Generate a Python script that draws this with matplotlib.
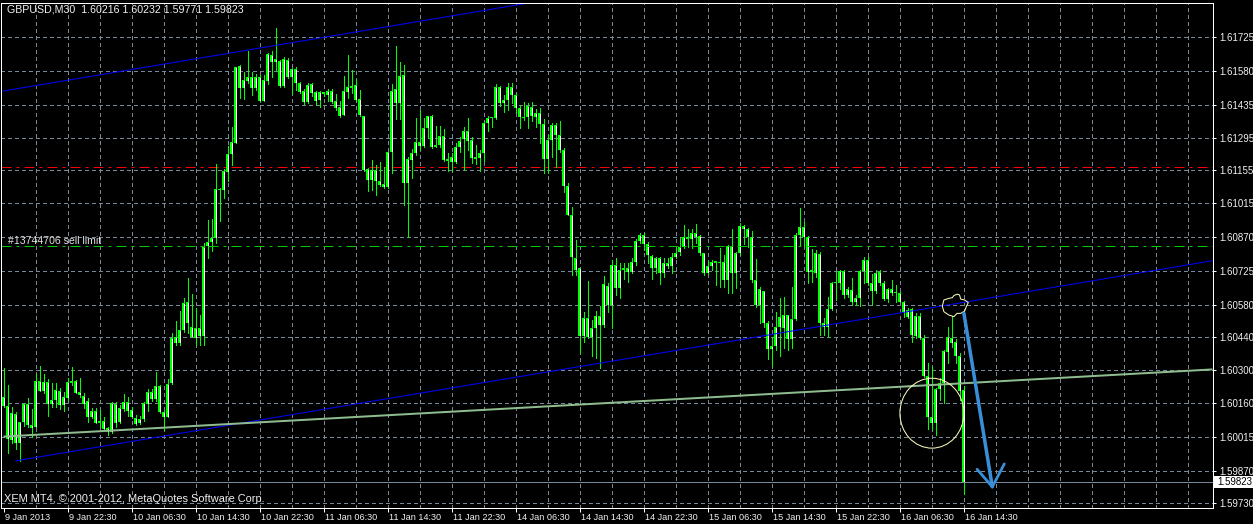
import numpy as np
import matplotlib
matplotlib.use("Agg")
import matplotlib.pyplot as plt
import matplotlib.transforms as mtransforms
from matplotlib.patches import Ellipse, Polygon, Rectangle

plt.rcParams['font.family'] = ['Liberation Sans', 'DejaVu Sans']

# ---------------------------------------------------------------- captions
symbol_caption = "GBPUSD,M30  1.60216 1.60232 1.59771 1.59823"
copyright_caption = "XEM MT4, \u00a9 2001-2012, MetaQuotes Software Corp."
order_caption = "#13744706 sell limit"

# ---------------------------------------------------------------- GBPUSD M30 bars
opens = [
    1.60185, 1.60147, 1.60001, 1.60113, 1.59988, 1.60078, 1.60155, 1.60066, 1.60057, 1.60254,
    1.60211, 1.60249, 1.60155, 1.60172, 1.60211, 1.60151, 1.60181, 1.60245, 1.60254, 1.60207,
    1.60190, 1.60168, 1.60100, 1.60125, 1.60074, 1.60083, 1.60053, 1.60036, 1.60155, 1.60078,
    1.60134, 1.60164, 1.60130, 1.60096, 1.60074, 1.60091, 1.60155, 1.60207, 1.60177, 1.60232,
    1.60121, 1.60100, 1.60245, 1.60442, 1.60416, 1.60472, 1.60592, 1.60485, 1.60438, 1.60480,
    1.60446, 1.60831, 1.60848, 1.60865, 1.61075, 1.61071, 1.61148, 1.61225, 1.61272, 1.61601,
    1.61507, 1.61537, 1.61554, 1.61507, 1.61554, 1.61451, 1.61537, 1.61648, 1.61618, 1.61622,
    1.61515, 1.61627, 1.61554, 1.61588, 1.61528, 1.61494, 1.61447, 1.61524, 1.61490, 1.61456,
    1.61490, 1.61477, 1.61494, 1.61451, 1.61426, 1.61391, 1.61490, 1.61515, 1.61520, 1.61460,
    1.61387, 1.61160, 1.61113, 1.61156, 1.61109, 1.61096, 1.61083, 1.61233, 1.61503, 1.61443,
    1.61562, 1.61101, 1.61199, 1.61229, 1.61276, 1.61259, 1.61336, 1.61387, 1.61254, 1.61263,
    1.61301, 1.61203, 1.61212, 1.61190, 1.61254, 1.61289, 1.61323, 1.61284, 1.61203, 1.61207,
    1.61229, 1.61357, 1.61379, 1.61379, 1.61511, 1.61443, 1.61456, 1.61511, 1.61477, 1.61421,
    1.61383, 1.61383, 1.61426, 1.61383, 1.61400, 1.61353, 1.61203, 1.61284, 1.61349, 1.61306,
    1.61242, 1.61088, 1.60964, 1.60780, 1.60737, 1.60446, 1.60523, 1.60442, 1.60480, 1.60532,
    1.60493, 1.60660, 1.60579, 1.60750, 1.60652, 1.60728, 1.60737, 1.60720, 1.60763, 1.60852,
    1.60878, 1.60840, 1.60788, 1.60737, 1.60780, 1.60716, 1.60758, 1.60746, 1.60784, 1.60805,
    1.60827, 1.60870, 1.60861, 1.60887, 1.60874, 1.60801, 1.60716, 1.60746, 1.60758, 1.60763,
    1.60763, 1.60686, 1.60831, 1.60716, 1.60801, 1.60917, 1.60904, 1.60870, 1.60686, 1.60579,
    1.60639, 1.60502, 1.60391, 1.60403, 1.60485, 1.60480, 1.60536, 1.60433, 1.60519, 1.60878,
    1.60912, 1.60870, 1.60720, 1.60716, 1.60797, 1.60502, 1.60485, 1.60562, 1.60673, 1.60673,
    1.60724, 1.60622, 1.60643, 1.60592, 1.60609, 1.60724, 1.60771, 1.60673, 1.60639, 1.60720,
    1.60673, 1.60604, 1.60647, 1.60630, 1.60630, 1.60592, 1.60527, 1.60562, 1.60446, 1.60532,
    1.60438, 1.60275, 1.60100, 1.60074, 1.60219, 1.60245, 1.60378, 1.60438, 1.60420, 1.60361,
    1.60216,
]
highs = [
    1.60309, 1.60237, 1.60142, 1.60121, 1.60078, 1.60160, 1.60181, 1.60134, 1.60284, 1.60318,
    1.60284, 1.60262, 1.60245, 1.60245, 1.60224, 1.60207, 1.60267, 1.60314, 1.60258, 1.60267,
    1.60202, 1.60181, 1.60138, 1.60138, 1.60130, 1.60100, 1.60057, 1.60164, 1.60164, 1.60151,
    1.60198, 1.60185, 1.60142, 1.60108, 1.60104, 1.60164, 1.60219, 1.60219, 1.60292, 1.60237,
    1.60130, 1.60262, 1.60459, 1.60510, 1.60553, 1.60609, 1.60694, 1.60626, 1.60566, 1.60536,
    1.60844, 1.60942, 1.60947, 1.61182, 1.61079, 1.61160, 1.61259, 1.61340, 1.61597, 1.61605,
    1.61575, 1.61665, 1.61575, 1.61567, 1.61562, 1.61562, 1.61657, 1.61665, 1.61763, 1.61627,
    1.61639, 1.61635, 1.61592, 1.61597, 1.61532, 1.61503, 1.61528, 1.61528, 1.61494, 1.61494,
    1.61490, 1.61503, 1.61503, 1.61481, 1.61451, 1.61558, 1.61648, 1.61584, 1.61545, 1.61498,
    1.61387, 1.61165, 1.61199, 1.61178, 1.61190, 1.61169, 1.61233, 1.61524, 1.61686, 1.61618,
    1.61605, 1.61212, 1.61246, 1.61379, 1.61413, 1.61379, 1.61387, 1.61391, 1.61344, 1.61344,
    1.61331, 1.61229, 1.61229, 1.61272, 1.61297, 1.61340, 1.61379, 1.61297, 1.61263, 1.61242,
    1.61366, 1.61387, 1.61383, 1.61524, 1.61515, 1.61477, 1.61528, 1.61528, 1.61485, 1.61434,
    1.61447, 1.61443, 1.61447, 1.61417, 1.61421, 1.61374, 1.61306, 1.61357, 1.61357, 1.61366,
    1.61250, 1.61101, 1.60998, 1.60857, 1.60737, 1.60549, 1.60681, 1.60515, 1.60553, 1.60574,
    1.60703, 1.60673, 1.60771, 1.60780, 1.60758, 1.60758, 1.60758, 1.60780, 1.60861, 1.60887,
    1.60887, 1.60848, 1.60793, 1.60784, 1.60784, 1.60780, 1.60780, 1.60801, 1.60822, 1.60870,
    1.60921, 1.60904, 1.60904, 1.60925, 1.60878, 1.60801, 1.60771, 1.60771, 1.60767, 1.60822,
    1.60793, 1.60835, 1.60904, 1.60805, 1.60930, 1.60921, 1.60908, 1.60895, 1.60775, 1.60656,
    1.60639, 1.60510, 1.60442, 1.60549, 1.60609, 1.60613, 1.60536, 1.60656, 1.60887, 1.60994,
    1.60934, 1.60874, 1.60818, 1.60814, 1.60805, 1.60523, 1.60613, 1.60677, 1.60720, 1.60728,
    1.60728, 1.60656, 1.60694, 1.60622, 1.60728, 1.60784, 1.60784, 1.60711, 1.60728, 1.60728,
    1.60681, 1.60652, 1.60686, 1.60664, 1.60634, 1.60596, 1.60566, 1.60566, 1.60544, 1.60544,
    1.60450, 1.60331, 1.60314, 1.60224, 1.60267, 1.60386, 1.60485, 1.60532, 1.60433, 1.60373,
    1.60232,
]
lows = [
    1.60142, 1.59946, 1.59988, 1.59963, 1.59912, 1.60061, 1.60057, 1.60014, 1.60057, 1.60211,
    1.60202, 1.60104, 1.60142, 1.60142, 1.60134, 1.60125, 1.60172, 1.60237, 1.60202, 1.60185,
    1.60138, 1.60078, 1.60096, 1.60074, 1.60057, 1.60044, 1.60023, 1.60031, 1.60057, 1.60074,
    1.60125, 1.60104, 1.60096, 1.60066, 1.60070, 1.60083, 1.60125, 1.60168, 1.60168, 1.60117,
    1.60044, 1.60100, 1.60241, 1.60408, 1.60408, 1.60463, 1.60459, 1.60442, 1.60408, 1.60408,
    1.60408, 1.60780, 1.60810, 1.60844, 1.60938, 1.61036, 1.61109, 1.61178, 1.61272, 1.61464,
    1.61460, 1.61528, 1.61477, 1.61498, 1.61451, 1.61451, 1.61524, 1.61554, 1.61584, 1.61511,
    1.61511, 1.61550, 1.61481, 1.61498, 1.61485, 1.61438, 1.61443, 1.61473, 1.61434, 1.61426,
    1.61473, 1.61451, 1.61443, 1.61413, 1.61383, 1.61391, 1.61464, 1.61485, 1.61451, 1.61387,
    1.61152, 1.61066, 1.61071, 1.61049, 1.61088, 1.61079, 1.61079, 1.61143, 1.61374, 1.61374,
    1.61006, 1.60870, 1.61122, 1.61220, 1.61242, 1.61254, 1.61293, 1.61250, 1.61254, 1.61254,
    1.61195, 1.61152, 1.61152, 1.61186, 1.61233, 1.61156, 1.61242, 1.61186, 1.61182, 1.61152,
    1.61195, 1.61323, 1.61340, 1.61374, 1.61430, 1.61404, 1.61413, 1.61443, 1.61400, 1.61336,
    1.61370, 1.61336, 1.61366, 1.61340, 1.61272, 1.61143, 1.61143, 1.61212, 1.61169, 1.61233,
    1.61062, 1.60964, 1.60707, 1.60707, 1.60373, 1.60420, 1.60438, 1.60361, 1.60352, 1.60309,
    1.60485, 1.60549, 1.60480, 1.60622, 1.60609, 1.60690, 1.60677, 1.60716, 1.60750, 1.60844,
    1.60814, 1.60758, 1.60690, 1.60716, 1.60669, 1.60698, 1.60737, 1.60716, 1.60780, 1.60793,
    1.60822, 1.60827, 1.60822, 1.60844, 1.60793, 1.60707, 1.60711, 1.60728, 1.60664, 1.60656,
    1.60656, 1.60630, 1.60630, 1.60652, 1.60793, 1.60840, 1.60827, 1.60677, 1.60570, 1.60502,
    1.60485, 1.60348, 1.60318, 1.60386, 1.60361, 1.60395, 1.60386, 1.60395, 1.60515, 1.60835,
    1.60827, 1.60673, 1.60677, 1.60698, 1.60450, 1.60450, 1.60442, 1.60557, 1.60600, 1.60647,
    1.60609, 1.60613, 1.60579, 1.60579, 1.60574, 1.60673, 1.60664, 1.60579, 1.60630, 1.60664,
    1.60600, 1.60592, 1.60622, 1.60592, 1.60592, 1.60527, 1.60523, 1.60420, 1.60438, 1.60433,
    1.60271, 1.60048, 1.60044, 1.60023, 1.60172, 1.60160, 1.60331, 1.60399, 1.60331, 1.60172,
    1.59771,
]
closes = [
    1.60147, 1.60006, 1.60117, 1.59988, 1.60078, 1.60155, 1.60066, 1.60053, 1.60254, 1.60211,
    1.60249, 1.60155, 1.60172, 1.60215, 1.60151, 1.60185, 1.60249, 1.60254, 1.60202, 1.60194,
    1.60155, 1.60100, 1.60125, 1.60074, 1.60083, 1.60048, 1.60036, 1.60160, 1.60074, 1.60138,
    1.60164, 1.60125, 1.60100, 1.60070, 1.60091, 1.60160, 1.60207, 1.60177, 1.60232, 1.60121,
    1.60100, 1.60241, 1.60438, 1.60416, 1.60472, 1.60587, 1.60502, 1.60442, 1.60480, 1.60446,
    1.60827, 1.60848, 1.60865, 1.61075, 1.61071, 1.61152, 1.61225, 1.61276, 1.61597, 1.61507,
    1.61541, 1.61554, 1.61507, 1.61554, 1.61451, 1.61541, 1.61652, 1.61618, 1.61631, 1.61515,
    1.61631, 1.61554, 1.61588, 1.61528, 1.61490, 1.61447, 1.61520, 1.61485, 1.61451, 1.61490,
    1.61481, 1.61494, 1.61447, 1.61421, 1.61387, 1.61494, 1.61511, 1.61507, 1.61456, 1.61391,
    1.61156, 1.61113, 1.61156, 1.61109, 1.61092, 1.61083, 1.61233, 1.61494, 1.61443, 1.61558,
    1.61101, 1.61203, 1.61229, 1.61276, 1.61259, 1.61336, 1.61387, 1.61254, 1.61263, 1.61301,
    1.61199, 1.61195, 1.61190, 1.61254, 1.61280, 1.61323, 1.61280, 1.61207, 1.61212, 1.61229,
    1.61357, 1.61379, 1.61379, 1.61511, 1.61443, 1.61456, 1.61511, 1.61477, 1.61421, 1.61383,
    1.61379, 1.61430, 1.61387, 1.61400, 1.61353, 1.61203, 1.61284, 1.61349, 1.61306, 1.61242,
    1.61088, 1.60964, 1.60784, 1.60728, 1.60446, 1.60523, 1.60442, 1.60480, 1.60532, 1.60493,
    1.60669, 1.60579, 1.60750, 1.60652, 1.60728, 1.60737, 1.60720, 1.60763, 1.60852, 1.60878,
    1.60840, 1.60793, 1.60737, 1.60780, 1.60716, 1.60758, 1.60746, 1.60784, 1.60801, 1.60827,
    1.60870, 1.60861, 1.60887, 1.60870, 1.60801, 1.60716, 1.60746, 1.60763, 1.60767, 1.60758,
    1.60686, 1.60831, 1.60716, 1.60801, 1.60917, 1.60904, 1.60870, 1.60686, 1.60579, 1.60647,
    1.60502, 1.60391, 1.60403, 1.60485, 1.60527, 1.60536, 1.60433, 1.60519, 1.60878, 1.60912,
    1.60870, 1.60720, 1.60728, 1.60801, 1.60502, 1.60485, 1.60562, 1.60673, 1.60677, 1.60724,
    1.60622, 1.60647, 1.60592, 1.60609, 1.60724, 1.60771, 1.60673, 1.60639, 1.60716, 1.60673,
    1.60604, 1.60647, 1.60630, 1.60630, 1.60592, 1.60544, 1.60557, 1.60450, 1.60532, 1.60438,
    1.60275, 1.60100, 1.60074, 1.60219, 1.60245, 1.60382, 1.60442, 1.60416, 1.60361, 1.60211,
    1.59823,
]

# time axis labels, one every 16 bars (8 hours)
time_labels = [
    "9 Jan 2013", "9 Jan 22:30", "10 Jan 06:30", "10 Jan 14:30", "10 Jan 22:30",
    "11 Jan 06:30", "11 Jan 14:30", "11 Jan 22:30", "14 Jan 06:30", "14 Jan 14:30",
    "14 Jan 22:30", "15 Jan 06:30", "15 Jan 14:30", "15 Jan 22:30", "16 Jan 06:30",
    "16 Jan 14:30",
]
price_ticks = [
    1.61725, 1.61580, 1.61435, 1.61295, 1.61155, 1.61015, 1.60870, 1.60725,
    1.60580, 1.60440, 1.60300, 1.60160, 1.60015, 1.59870, 1.59730,
]
price_tick_labels = [f"{p:.5f}" for p in price_ticks]

bid_price = 1.59823
sell_limit_price = 1.60830
stop_level_price = 1.61168

# chart objects: (bar index, price) anchors
upper_channel_bars = [0, 120]
upper_channel_prices = [1.61494, 1.61838]
lower_channel_bars = [3, 240]
lower_channel_prices = [1.59912, 1.60590]
support_bars = [0, 240]
support_prices = [1.60016, 1.60244]

ellipse_center_bar, ellipse_center_price = 232.1, 1.60116
ellipse_width_bars, ellipse_height_price = 16.0, 0.00299

cloud_bars = [234.7, 235.1, 236.3, 237.2, 237.6, 238.4, 239.0, 239.3, 240.3,
              241.2, 240.7, 240.3, 239.3, 238.4, 237.6, 236.3, 235.1]
cloud_prices = [1.60574, 1.60600, 1.60607, 1.60610, 1.60619, 1.60625, 1.60622,
                1.60604, 1.60600, 1.60589, 1.60572, 1.60553, 1.60543, 1.60543,
                1.60529, 1.60536, 1.60550]

arrow_bars = [240.1, 247.2]
arrow_prices = [1.60543, 1.59801]
arrow_head_bars = [243.4, 247.2, 250.2]
arrow_head_prices = [1.59876, 1.59801, 1.59899]

# ---------------------------------------------------------------- layout
W, H, DPI = 1253, 524, 100
LIME = "#00ff00"
GRID = "#778899"
TEXT = "#f0f0f0"
PX = 72.0 / DPI  # one pixel in points

fig = plt.figure(figsize=(W / DPI, H / DPI), dpi=DPI, facecolor="black")
left_px, right_px, top_px, bottom_px = 0.5, 1212.5, 2.5, 507.5
ax = fig.add_axes([left_px / W, 1 - bottom_px / H,
                   (right_px - left_px) / W, (bottom_px - top_px) / H])
ax.set_facecolor("black")
x_lo, x_hi = -0.75, 302.25
y_lo, y_hi = 1.597126, 1.618725
ax.set_xlim(x_lo, x_hi)
ax.set_ylim(y_lo, y_hi)
price_per_px = (y_hi - y_lo) / (bottom_px - top_px)

# grid
grid_kw = dict(color=GRID, lw=PX, ls=(0, (3, 3)), antialiased=False, zorder=1)
for p in price_ticks:
    ax.axhline(p, **grid_kw)
for b in range(8, int(x_hi) + 1, 8):
    ax.axvline(b, **grid_kw)

# candles
o = np.array(opens)
h = np.array(highs)
l = np.array(lows)
c = np.array(closes)
x = np.arange(len(c))
body_lo = np.minimum(o, c)
body_hi = np.maximum(o, c)
ax.vlines(x, l, h, colors=LIME, lw=PX, antialiased=False, zorder=3)
ax.bar(x, np.maximum(body_hi - body_lo, price_per_px), bottom=body_lo, width=0.75,
       color=LIME, linewidth=0, antialiased=False, zorder=4)
inner = (body_hi - body_lo) > 2.5 * price_per_px
ax.vlines(x[inner], body_lo[inner] + price_per_px, body_hi[inner] - price_per_px,
          colors="white", lw=PX, antialiased=False, zorder=5)


def extend(bars, prices, start=None):
    """Extend a two-point trend line to the right edge of the chart."""
    slope = (prices[1] - prices[0]) / (bars[1] - bars[0])
    b0 = bars[0] if start is None else start
    xs = [b0, x_hi]
    ys = [prices[0] + slope * (b0 - bars[0]), prices[0] + slope * (x_hi - bars[0])]
    return xs, ys


# channel and support lines
xs, ys = extend(upper_channel_bars, upper_channel_prices, start=x_lo)
ax.plot(xs, ys, color="#0000ff", lw=PX, zorder=6)
xs, ys = extend(lower_channel_bars, lower_channel_prices)
ax.plot(xs, ys, color="#0000ff", lw=PX, zorder=6)
xs, ys = extend(support_bars, support_prices)
ax.plot(xs, ys, color="#8fbc8f", lw=2 * PX, zorder=6, solid_capstyle="butt")

# pending order levels
ax.axhline(sell_limit_price, color="#00c800", lw=PX, ls=(0, (10, 5, 3, 5)), zorder=6)
ax.axhline(stop_level_price, color="#ff0000", lw=PX, ls=(0, (10, 5, 3, 5)), zorder=2)

# bid line
ax.axhline(bid_price, color=GRID, lw=PX, zorder=6)

# hand-drawn marks
ax.add_patch(Ellipse((ellipse_center_bar, ellipse_center_price), ellipse_width_bars,
                     ellipse_height_price, fill=False, ec="#ffffc0", lw=PX, zorder=7))
ax.add_patch(Polygon(np.column_stack([cloud_bars, cloud_prices]), closed=True,
                     fill=False, ec="#ffffc0", lw=PX, zorder=7))
ax.plot(arrow_bars, arrow_prices, color="#3a8ed8", lw=3.5 * PX, zorder=8,
        solid_capstyle="round")
ax.plot(arrow_head_bars, arrow_head_prices, color="#3a8ed8", lw=2.8 * PX, zorder=8,
        solid_capstyle="round", solid_joinstyle="round")

# frame
for side in ["left", "right", "top", "bottom"]:
    ax.spines[side].set_color("white")
    ax.spines[side].set_linewidth(PX)
    ax.spines[side].set_zorder(10)

# price axis
ax.yaxis.tick_right()
ax.set_yticks(price_ticks)
ax.set_yticklabels(price_tick_labels)
ax.tick_params(axis="y", colors="white", labelcolor=TEXT, direction="out",
               length=3 * PX, width=PX, pad=2.5, labelsize=7)

# time axis
ax.set_xticks(np.arange(len(time_labels)) * 16)
ax.set_xticklabels(time_labels)
ax.tick_params(axis="x", colors="white", labelcolor=TEXT, direction="out",
               length=4 * PX, width=PX, pad=1.0, labelsize=6.6)
shift = mtransforms.ScaledTranslation(1.5 / DPI, 0, fig.dpi_scale_trans)
for lbl in ax.get_xticklabels():
    lbl.set_horizontalalignment("left")
    lbl.set_transform(lbl.get_transform() + shift)

# bid price tag on the axis
tag_trans = mtransforms.blended_transform_factory(fig.transFigure, ax.transData)
ax.add_patch(Rectangle((1213.5 / W, bid_price - 6 * price_per_px), 39.5 / W,
                       12 * price_per_px, transform=tag_trans, facecolor="white",
                       edgecolor="none", clip_on=False, zorder=11))
ax.text(1217 / W, bid_price, f"{bid_price:.5f}", transform=tag_trans, color="black",
        fontsize=7, va="center", ha="left", zorder=12, clip_on=False)

# captions
fig.text(7 / W, 1 - 10 / H, symbol_caption, color=TEXT, fontsize=7.7,
         va="center", ha="left")
fig.text(4 / W, 1 - 499 / H, copyright_caption, color=TEXT, fontsize=7.9,
         va="center", ha="left")
order_trans = mtransforms.blended_transform_factory(fig.transFigure, ax.transData)
ax.text(8 / W, sell_limit_price + 5 * price_per_px, order_caption, transform=order_trans,
        color="#e0e0e0", fontsize=7.6, va="center", ha="left", zorder=9)

fig.savefig("out.png", dpi=DPI, facecolor="black")
